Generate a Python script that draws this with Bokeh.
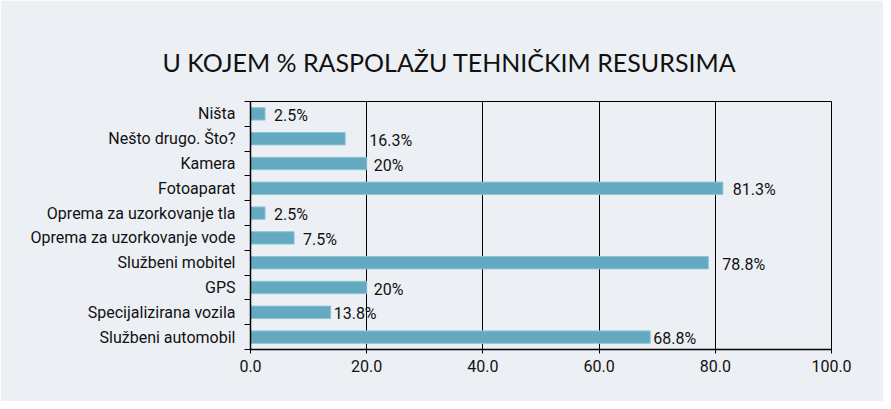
from bokeh.plotting import figure
from bokeh.models import Range1d, FixedTicker, ColumnDataSource
from bokeh.core.properties import value
from bokeh.embed import file_html
from bokeh.resources import INLINE

categories = ["Ništa", "Nešto drugo. Što?", "Kamera", "Fotoaparat",
              "Oprema za uzorkovanje tla", "Oprema za uzorkovanje vode",
              "Službeni mobitel", "GPS", "Specijalizirana vozila",
              "Službeni automobil"]
values = [2.5, 16.3, 20, 81.3, 2.5, 7.5, 78.8, 20, 13.8, 68.8]
value_labels = ["2.5%", "16.3%", "20%", "81.3%", "2.5%", "7.5%",
                "78.8%", "20%", "13.8%", "68.8%"]
x_ticks = [0, 20, 40, 60, 80, 100]
x_tick_labels = ["0.0", "20.0", "40.0", "60.0", "80.0", "100.0"]
title_text = "U KOJEM % RASPOLAŽU TEHNIČKIM RESURSIMA"

# style: per-label horizontal offsets in px (as in the original layout)
label_dx = [9, 24, 7, 10, 9, 9, 14, 7, 3, 3]

FONT = "Roboto"
BG = "#ecf0f5"
BAR = "#63aac1"
TXT = "#111111"

n = len(categories)
pos = list(range(n))

p = figure(width=883, height=401, output_backend="svg", toolbar_location=None,
           x_range=Range1d(0, 100), y_range=Range1d(n - 0.5, -0.5),
           min_border_left=250, min_border_right=52, min_border_top=101,
           min_border_bottom=52,
           background_fill_color=BG, border_fill_color=BG,
           outline_line_color="black", outline_line_width=1)

src = ColumnDataSource(dict(y=pos, v=values, lab=value_labels, dx=label_dx))
p.hbar(y="y", right="v", left=0, height=0.5, source=src,
       fill_color=BAR, line_color="#8ec4d4", line_width=1)
p.text(x="v", y="y", text="lab", source=src, x_offset="dx", y_offset=1.5,
       text_baseline="middle", text_align="left",
       text_font=value(FONT), text_font_size="16px", text_color=TXT)

p.title.text = title_text
p.title.align = "left"
p.title.offset = -88
p.title.standoff = 50
p.title.text_font = "Lato"
p.title.text_font_size = "25px"
p.title.text_font_style = "normal"
p.title.text_color = TXT

# x axis
xa = p.xaxis[0]
xa.ticker = FixedTicker(ticks=x_ticks)
xa.major_label_overrides = {t: l for t, l in zip(x_ticks, x_tick_labels)}
xa.major_tick_out = 4
xa.major_tick_in = 0
xa.minor_tick_line_color = None
xa.axis_line_color = "black"
xa.axis_line_width = 1.5
xa.major_label_text_font = FONT
xa.major_label_text_font_size = "16px"
xa.major_label_text_color = TXT
xa.major_label_standoff = 6

# y axis: labels at category centres, ticks at category boundaries
ya = p.yaxis[0]
ya.ticker = FixedTicker(ticks=pos, minor_ticks=[i - 0.5 for i in range(n + 1)])
ya.major_label_overrides = {i: c for i, c in zip(pos, categories)}
ya.major_tick_line_color = None
ya.major_tick_out = 0
ya.major_tick_in = 0
ya.minor_tick_out = 6
ya.minor_tick_in = 0
ya.minor_tick_line_color = "black"
ya.axis_line_color = "black"
ya.axis_line_width = 1.5
ya.major_label_text_font = FONT
ya.major_label_text_font_size = "16px"
ya.major_label_text_color = TXT
ya.major_label_standoff = 9

p.xgrid.grid_line_color = "black"
p.xgrid.grid_line_width = 1
p.ygrid.grid_line_color = None

open("out.html", "w").write(file_html(p, INLINE))
